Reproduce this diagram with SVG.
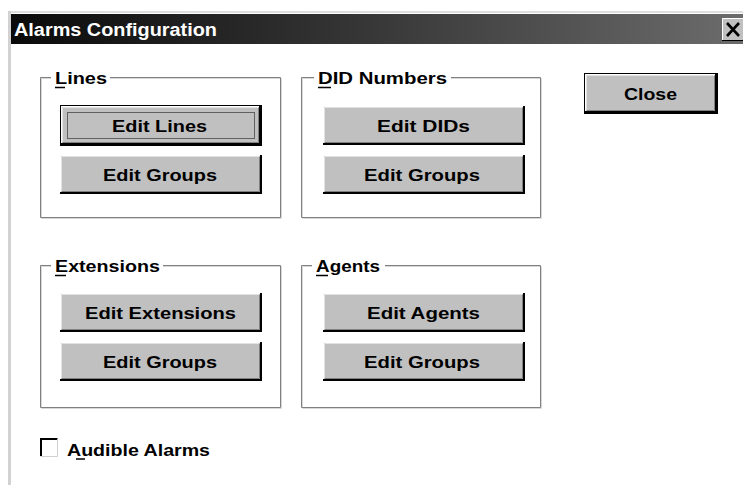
<svg xmlns="http://www.w3.org/2000/svg" xmlns:xlink="http://www.w3.org/1999/xlink" width="743" height="485" viewBox="0 0 743 485">
  <style>
    .ui { font-family: "Liberation Sans", Arial, sans-serif; font-weight: bold; font-size: 17px; fill: #000; }
    .title { font-family: "Liberation Sans", Arial, sans-serif; font-weight: bold; font-size: 18px; fill: #fff; }
    .etch-dark { fill: none; stroke: #808080; stroke-width: 1; }
    .etch-light { fill: none; stroke: #d8d8d8; stroke-width: 1; }
    .mn { stroke: #000; stroke-width: 1.5; }
  </style>
  <defs>
    <linearGradient id="caption" x1="0" y1="0" x2="1" y2="0">
      <stop offset="0" stop-color="#0a0a0a"/>
      <stop offset="0.5" stop-color="#383838"/>
      <stop offset="1" stop-color="#6c6c6c"/>
    </linearGradient>
    <!-- raised 3D push button face, 202 x 39 -->
    <symbol id="btn" viewBox="0 0 202 39" preserveAspectRatio="none">
      <rect width="202" height="39" fill="#c0c0c0"/>
      <path d="M0.5 38 V0.5 H201" fill="none" stroke="#ffffff"/>
      <path d="M1.5 37 V1.5 H200" fill="none" stroke="#e2e2e2"/>
      <path d="M0 38 H201 V0" fill="none" stroke="#000" stroke-width="2"/>
      <path d="M1.5 36.5 H199.5 V1.5" fill="none" stroke="#808080"/>
    </symbol>
  </defs>

  <!-- window background and frame -->
  <rect width="743" height="485" fill="#ffffff"/>
  <rect x="8" y="11" width="735" height="2" fill="#dedede"/>
  <rect x="8" y="11" width="3" height="474" fill="#d2d2d2"/>

  <!-- caption bar -->
  <g id="titlebar">
    <rect x="11" y="14" width="732" height="30" fill="url(#caption)"/>
    <text class="title" x="14" y="36" textLength="203" lengthAdjust="spacingAndGlyphs">Alarms Configuration</text>
    <g id="close-x">
      <rect x="722" y="18" width="21" height="23" fill="#c0c0c0"/>
      <path d="M722.5 40 V18.5 H743" fill="none" stroke="#ffffff"/>
      <path d="M722 40.5 H743" stroke="#000"/>
      <path d="M727 23 L739 36 M739 23 L727 36" stroke="#000" stroke-width="2.6"/>
    </g>
  </g>

  <!-- group frames -->
  <g id="group-lines">
    <path class="etch-light" d="M110 78.5 H281.5 V218.5 H41.5 V78.5 H51"/>
    <path class="etch-dark" d="M110 77.5 H280.5 V217.5 H40.5 V77.5 H51"/>
    <text class="ui" x="55" y="84" textLength="52" lengthAdjust="spacingAndGlyphs">Lines</text>
    <line class="mn" x1="55" y1="87.5" x2="65" y2="87.5"/>
  </g>
  <g id="group-did">
    <path class="etch-light" d="M451 78.5 H541.5 V218.5 H302.5 V78.5 H314"/>
    <path class="etch-dark" d="M451 77.5 H540.5 V217.5 H301.5 V77.5 H314"/>
    <text class="ui" x="318" y="84" textLength="129" lengthAdjust="spacingAndGlyphs">DID Numbers</text>
    <line class="mn" x1="318" y1="87.5" x2="331" y2="87.5"/>
  </g>
  <g id="group-extensions">
    <path class="etch-light" d="M163 266.5 H281.5 V408.5 H41.5 V266.5 H51"/>
    <path class="etch-dark" d="M163 265.5 H280.5 V407.5 H40.5 V265.5 H51"/>
    <text class="ui" x="55" y="272" textLength="105" lengthAdjust="spacingAndGlyphs">Extensions</text>
    <line class="mn" x1="55" y1="275.5" x2="66" y2="275.5"/>
  </g>
  <g id="group-agents">
    <path class="etch-light" d="M385 266.5 H541.5 V408.5 H302.5 V266.5 H312"/>
    <path class="etch-dark" d="M385 265.5 H540.5 V407.5 H301.5 V265.5 H312"/>
    <text class="ui" x="316" y="272" textLength="64" lengthAdjust="spacingAndGlyphs">Agents</text>
    <line class="mn" x1="316" y1="275.5" x2="328" y2="275.5"/>
  </g>

  <!-- push buttons -->
  <g id="btn-edit-lines">
    <use xlink:href="#btn" href="#btn" x="61" y="106" width="200" height="39"/>
    <rect x="60.5" y="105.5" width="201" height="40" fill="none" stroke="#000"/>
    <rect x="67.5" y="112.5" width="187" height="26" fill="none" stroke="#000" stroke-dasharray="1 1"/>
    <text class="ui" x="112" y="132" textLength="95" lengthAdjust="spacingAndGlyphs">Edit Lines</text>
  </g>
  <g id="btn-lines-groups">
    <use xlink:href="#btn" href="#btn" x="60" y="155" width="202" height="39"/>
    <text class="ui" x="103" y="181" textLength="114" lengthAdjust="spacingAndGlyphs">Edit Groups</text>
  </g>
  <g id="btn-edit-dids">
    <use xlink:href="#btn" href="#btn" x="323" y="106" width="202" height="39"/>
    <text class="ui" x="377" y="132" textLength="93" lengthAdjust="spacingAndGlyphs">Edit DIDs</text>
  </g>
  <g id="btn-did-groups">
    <use xlink:href="#btn" href="#btn" x="323" y="155" width="202" height="39"/>
    <text class="ui" x="364" y="181" textLength="116" lengthAdjust="spacingAndGlyphs">Edit Groups</text>
  </g>
  <g id="btn-edit-extensions">
    <use xlink:href="#btn" href="#btn" x="60" y="293" width="202" height="39"/>
    <text class="ui" x="85" y="319" textLength="151" lengthAdjust="spacingAndGlyphs">Edit Extensions</text>
  </g>
  <g id="btn-extensions-groups">
    <use xlink:href="#btn" href="#btn" x="60" y="342" width="202" height="39"/>
    <text class="ui" x="103" y="368" textLength="114" lengthAdjust="spacingAndGlyphs">Edit Groups</text>
  </g>
  <g id="btn-edit-agents">
    <use xlink:href="#btn" href="#btn" x="323" y="293" width="202" height="39"/>
    <text class="ui" x="367" y="319" textLength="113" lengthAdjust="spacingAndGlyphs">Edit Agents</text>
  </g>
  <g id="btn-agents-groups">
    <use xlink:href="#btn" href="#btn" x="323" y="342" width="202" height="39"/>
    <text class="ui" x="364" y="368" textLength="116" lengthAdjust="spacingAndGlyphs">Edit Groups</text>
  </g>
  <g id="btn-close">
    <rect x="585" y="74" width="132" height="39" fill="#c0c0c0"/>
    <path d="M585.5 112 V74.5 H716" fill="none" stroke="#ffffff"/>
    <path d="M586.5 111 V75.5 H715" fill="none" stroke="#e2e2e2"/>
    <path d="M585 112 H716 V74" fill="none" stroke="#000" stroke-width="2"/>
    <path d="M586.5 110.5 H714.5 V75.5" fill="none" stroke="#808080"/>
    <rect x="584.5" y="73.5" width="133" height="40" fill="none" stroke="#000"/>
    <text class="ui" x="624" y="100" textLength="53" lengthAdjust="spacingAndGlyphs">Close</text>
  </g>

  <!-- checkbox -->
  <g id="chk-audible">
    <rect x="40" y="438" width="18" height="18" fill="#ffffff"/>
    <path d="M41 456 V439 H58" fill="none" stroke="#000" stroke-width="2"/>
    <path d="M40.5 456.5 H57.5 V438.5" fill="none" stroke="#d0d0d0"/>
    <text class="ui" x="67" y="456" textLength="143" lengthAdjust="spacingAndGlyphs">Audible Alarms</text>
    <line class="mn" x1="76" y1="459" x2="85" y2="459"/>
  </g>

  <!-- no connectors in this dialog -->
  <g id="connectors"/>
</svg>
